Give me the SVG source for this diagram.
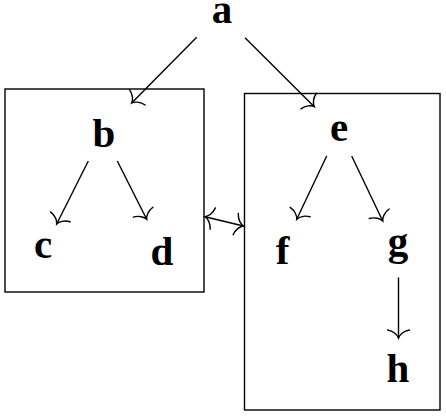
<svg xmlns="http://www.w3.org/2000/svg" width="446" height="416" viewBox="0 0 446 416">
<style>
.lbl{font-family:"Liberation Serif","DejaVu Serif",serif;font-weight:bold;font-size:41px;text-anchor:middle;fill:#000}
.box{fill:none;stroke:#000;stroke-width:1.4}
.edge{fill:none;stroke:#000;stroke-width:1.4}
</style>
<defs>
<marker id="to" markerUnits="userSpaceOnUse" orient="auto-start-reverse" markerWidth="30" markerHeight="30" refX="0" refY="0" viewBox="-15 -15 30 30" overflow="visible">
<path d="M -8,-11 C -7,-5 -3,-1 0,0 C -3,1 -7,5 -8,11" fill="none" stroke="#000" stroke-width="1.4" stroke-linecap="round"/>
</marker>
</defs>
<rect x="0" y="0" width="446" height="416" fill="#fff"/>
<g id="box1"><rect class="box" x="5" y="89" width="199" height="203"/></g>
<g id="box2"><rect class="box" x="244.5" y="93.5" width="195.5" height="316.5"/></g>
<g id="node-a"><text class="lbl" x="222" y="23">a</text></g>
<g id="node-b"><text class="lbl" x="104" y="147">b</text></g>
<g id="node-c"><text class="lbl" x="43" y="258">c</text></g>
<g id="node-d"><text class="lbl" x="162" y="265">d</text></g>
<g id="node-e"><text class="lbl" x="339" y="141">e</text></g>
<g id="node-f"><text class="lbl" x="282.5" y="264">f</text></g>
<g id="node-g"><text class="lbl" x="398" y="255">g</text></g>
<g id="node-h"><text class="lbl" x="398" y="382">h</text></g>
<g id="connectors">
<line class="edge" x1="196.7" y1="37.3" x2="131.7" y2="103" marker-end="url(#to)"/>
<line class="edge" x1="245" y1="37.7" x2="314.3" y2="106.7" marker-end="url(#to)"/>
<line class="edge" x1="88.3" y1="161" x2="56.7" y2="224" marker-end="url(#to)"/>
<line class="edge" x1="117.3" y1="161" x2="146.7" y2="219.3" marker-end="url(#to)"/>
<line class="edge" x1="326.7" y1="156" x2="296.7" y2="219.3" marker-end="url(#to)"/>
<line class="edge" x1="351.7" y1="156" x2="382.7" y2="221" marker-end="url(#to)"/>
<line class="edge" x1="398.5" y1="277.5" x2="398.5" y2="338" marker-end="url(#to)"/>
<line class="edge" x1="205" y1="216.7" x2="243.5" y2="226" marker-start="url(#to)" marker-end="url(#to)"/>
</g>
</svg>
